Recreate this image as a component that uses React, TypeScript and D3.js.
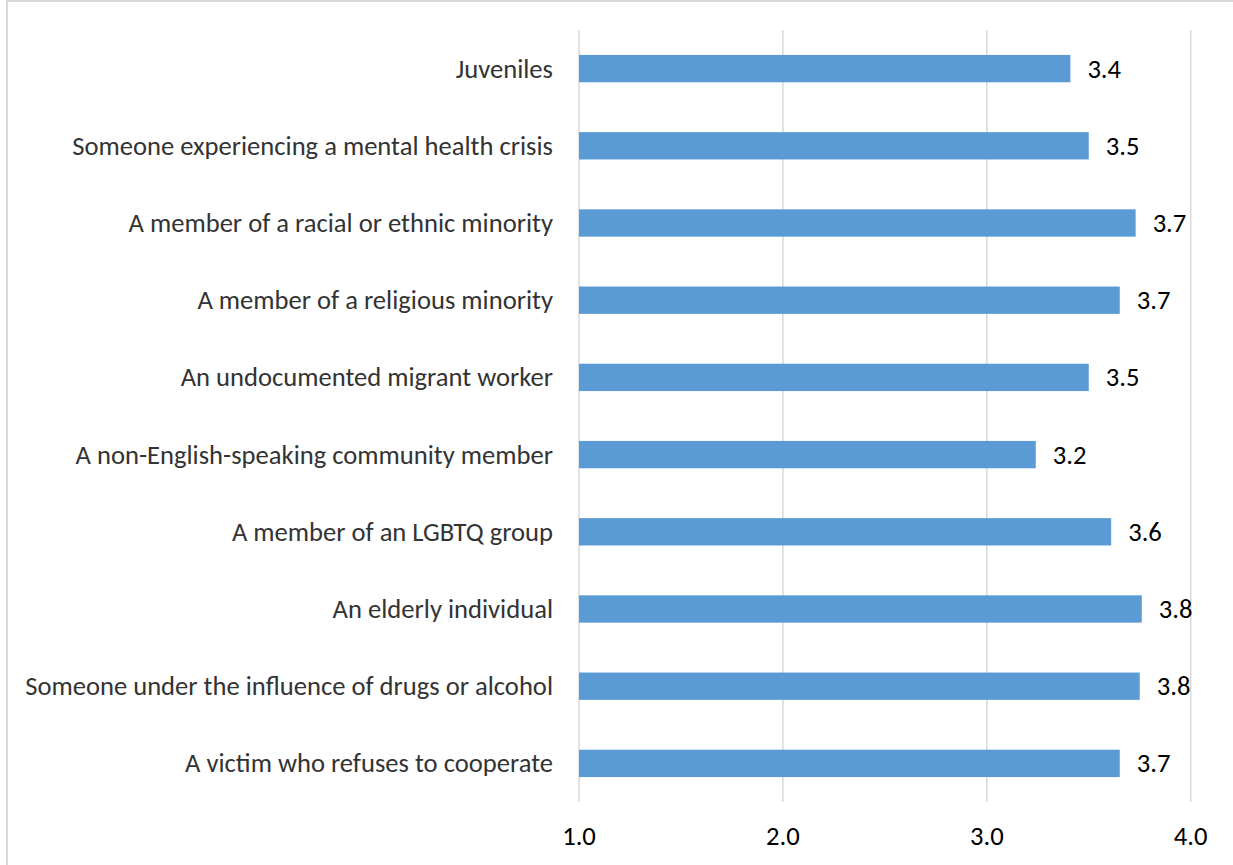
import React from "react";
import * as d3 from "d3";

const categories = [
  "Juveniles",
  "Someone experiencing a mental health crisis",
  "A member of a racial or ethnic minority",
  "A member of a religious minority",
  "An undocumented migrant worker",
  "A non-English-speaking community member",
  "A member of an LGBTQ group",
  "An elderly individual",
  "Someone under the influence of drugs or alcohol",
  "A victim who refuses to cooperate",
];
const values = [3.41, 3.5, 3.73, 3.652, 3.5, 3.24, 3.61, 3.76, 3.75, 3.652];
const ticks = [1.0, 2.0, 3.0, 4.0];

const W = 1233;
const H = 865;
const FONT = "Carlito, Calibri, Lato, sans-serif";
const FS = 26.6;

export default function App() {
  const x = d3.scaleLinear().domain([1, 4]).range([579, 1190.7]);
  const y = d3
    .scaleBand<string>()
    .domain(categories)
    .range([30, 802])
    .paddingInner(0.646)
    .paddingOuter(0.323);
  const bw = y.bandwidth();
  return (
    <svg
      width={W}
      height={H}
      style={{ position: "absolute", left: 0, top: 0, background: "#fff" }}
    >
      <rect x={7} y={1} width={W + 20} height={H + 20} fill="#fff" stroke="#d9d9d9" strokeWidth={2} />
      {ticks.map((t) => (
        <line
          key={t}
          x1={x(t)}
          x2={x(t)}
          y1={30}
          y2={802}
          stroke="#d9d9d9"
          strokeWidth={1.5}
        />
      ))}
      {categories.map((c, i) => (
        <g key={c}>
          <rect
            x={x(1)}
            y={y(c)!}
            width={x(values[i]) - x(1)}
            height={bw}
            fill="#5b9bd5"
          />
          <text
            x={x(values[i]) + 17}
            y={y(c)! + bw / 2}
            dy="0.34em"
            fontFamily={FONT}
            fontSize={FS}
            fill="#000"
          >
            {values[i].toFixed(1)}
          </text>
          <text
            x={553}
            y={y(c)! + bw / 2}
            dy="0.34em"
            textAnchor="end"
            fontFamily={FONT}
            fontSize={FS}
            fill="#333"
          >
            {c}
          </text>
        </g>
      ))}
      {ticks.map((t) => (
        <text
          key={"t" + t}
          x={x(t)}
          y={845}
          textAnchor="middle"
          fontFamily={FONT}
          fontSize={FS}
          fill="#000"
        >
          {t.toFixed(1)}
        </text>
      ))}
    </svg>
  );
}
